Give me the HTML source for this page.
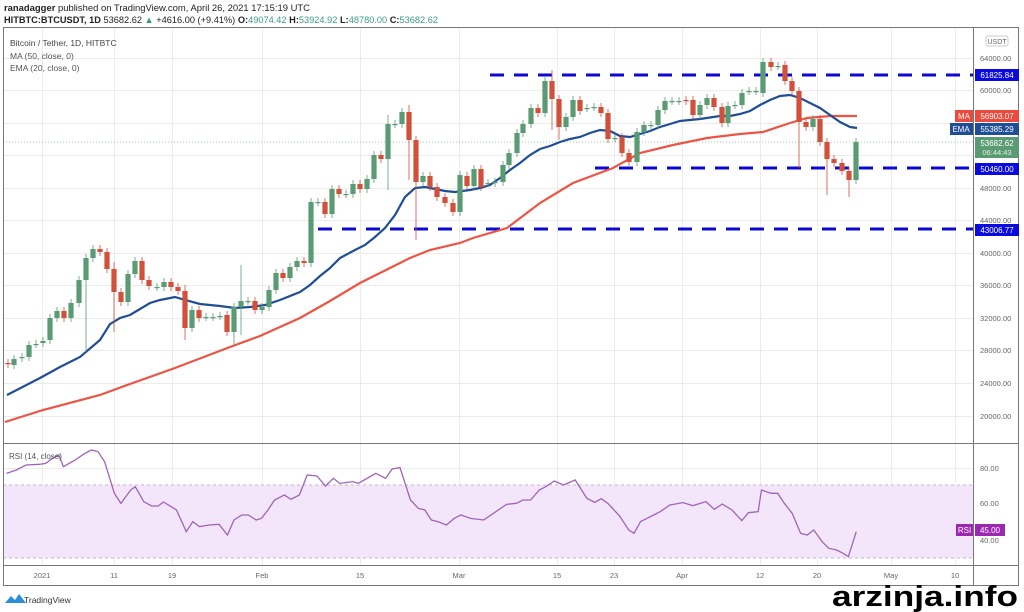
<!DOCTYPE html>
<html><head><meta charset="utf-8"><style>
html,body{margin:0;padding:0;background:#fff;width:1024px;height:612px;overflow:hidden}
svg text{font-family:"Liberation Sans",sans-serif}
</style></head><body>
<svg id="s" width="1024" height="612" viewBox="0 0 1024 612" xmlns="http://www.w3.org/2000/svg">
<rect width="1024" height="612" fill="#fff"/>
<text x="4" y="11" font-size="9.5" fill="#222" textLength="306" lengthAdjust="spacingAndGlyphs"><tspan font-weight="bold">ranadagger</tspan> published on TradingView.com, April 26, 2021 17:15:19 UTC</text>
<text x="4" y="23" font-size="9.3" fill="#222" textLength="434" lengthAdjust="spacingAndGlyphs"><tspan font-weight="bold">HITBTC:BTCUSDT, 1D</tspan> 53682.62 <tspan fill="#3a9a6a">▲</tspan> +4616.00 (+9.41%) <tspan font-weight="bold">O:</tspan><tspan fill="#3a9a8a">49074.42</tspan> <tspan font-weight="bold">H:</tspan><tspan fill="#3a9a8a">53924.92</tspan> <tspan font-weight="bold">L:</tspan><tspan fill="#3a9a8a">48780.00</tspan> <tspan font-weight="bold">C:</tspan><tspan fill="#3a9a8a">53682.62</tspan></text>
<g id="grid" stroke="#ececec" stroke-width="1"></g>
<rect x="3" y="485" width="970" height="73" fill="#f3e6fb"/>
<line x1="3" y1="485" x2="973" y2="485" stroke="#c9b3d6" stroke-dasharray="3,3"/>
<line x1="3" y1="558" x2="973" y2="558" stroke="#c9b3d6" stroke-dasharray="3,3"/>
<line x1="3" y1="142" x2="973" y2="142" stroke="#7fb79a" stroke-dasharray="1,2" stroke-width="0.8"/>
<g id="dash" stroke="#0a0ad0" stroke-width="3" stroke-dasharray="14,10">
<line x1="490" y1="75" x2="973" y2="75"/>
<line x1="595" y1="168" x2="973" y2="168"/>
<line x1="318" y1="229" x2="973" y2="229"/>
</g>
<polyline fill="none" stroke="#ec5444" stroke-width="2.2" points="5,422 43,410 100,395 130,384 175,368 230,347 260,336 300,318 330,301 360,283 390,268 410,258 430,250 460,243 473,238 507,228 540,203 573,183 613,168 640,153 673,145 707,138 740,134 763,132 790,123 807,118 830,116 857,116"/>
<polyline fill="none" stroke="#1f4e96" stroke-width="2.2" points="7,395 40,378 60,367 80,357 100,340 110,324 120,318 130,315 140,309 150,303 160,300 175,297 185,300 200,304 220,306 235,308 250,307 265,305 280,300 300,292 310,285 320,276 330,268 340,258 355,250 365,245 375,237 385,228 395,215 405,197 415,188 425,187 435,189 445,191 455,192 470,190 480,188 490,185 500,178 510,170 520,163 530,155 540,149 550,146 560,142 570,139 580,137 590,133 600,130 610,131 620,136 630,137 640,134 650,131 660,127 670,124 680,121 700,119 720,116 730,116 740,114 750,111 760,105 770,100 780,96 790,95 800,98 810,103 820,108 830,115 840,122 850,127 857,128"/>
<g id="candles"></g>
<g transform="translate(0,440) scale(0.6536,0.33333)">
<polyline fill="none" stroke="#a064b8" stroke-width="1.3" vector-effect="non-scaling-stroke" points="10,100 25,90 40,75 60,73 70,70 80,55 90,45 97,80 115,60 130,40 140,30 150,35 160,65 175,160 185,190 200,150 207,140 220,185 232,198 242,198 250,186 262,200 270,210 285,275 295,245 305,260 320,255 335,253 348,285 358,240 370,225 380,225 392,240 400,235 410,210 420,180 435,165 445,178 458,165 470,105 485,108 498,138 510,115 520,130 540,125 548,130 560,117 575,100 590,115 600,87 612,83 628,180 640,205 650,210 660,240 670,245 683,255 695,235 705,225 720,235 740,240 755,220 775,193 790,190 800,180 812,180 825,150 835,140 848,123 862,135 880,120 898,175 910,187 920,176 930,190 948,228 962,270 970,280 980,245 990,235 1000,225 1010,215 1025,195 1045,188 1060,197 1075,188 1080,185 1093,208 1105,192 1120,210 1135,242 1145,218 1160,215 1165,150 1180,160 1190,160 1200,190 1212,220 1225,280 1235,285 1245,270 1258,305 1268,325 1280,330 1290,340 1298,350 1310,275"/>
</g>
<text x="9" y="459" font-size="8" fill="#555">RSI (14, close)</text>
<text x="10" y="46" font-size="8.5" fill="#444">Bitcoin / Tether, 1D, HITBTC</text>
<text x="10" y="59" font-size="8.5" fill="#555">MA (50, close, 0)</text>
<text x="10" y="71" font-size="8.5" fill="#555">EMA (20, close, 0)</text>
<g fill="none" stroke="#777" stroke-width="1">
<rect x="3.5" y="27.5" width="1015" height="558"/>
<line x1="973.5" y1="27" x2="973.5" y2="586"/>
<line x1="3" y1="443.5" x2="1019" y2="443.5"/>
<line x1="3" y1="565.5" x2="1019" y2="565.5"/>
</g>
<g id="axis" font-size="7.5" fill="#666"></g>
<rect x="986" y="36" width="22" height="10" rx="2" fill="#fff" stroke="#ccc"/>
<text x="997" y="44" font-size="7" fill="#666" text-anchor="middle">USDT</text>
<rect x="975" y="69" width="44" height="12" fill="#0a0ae0"/><text x="997" y="78" font-size="8" fill="#fff" text-anchor="middle">61825.84</text>
<rect x="955" y="110" width="18" height="12" fill="#ec4a3c"/><text x="964" y="119" font-size="8" fill="#fff" text-anchor="middle">MA</text>
<rect x="975" y="110" width="44" height="12" fill="#ec4a3c"/><text x="997" y="119" font-size="8" fill="#fff" text-anchor="middle">56903.07</text>
<rect x="950" y="123" width="23" height="12" fill="#1f4e96"/><text x="961" y="132" font-size="8" fill="#fff" text-anchor="middle">EMA</text>
<rect x="975" y="123" width="44" height="12" fill="#1f4e96"/><text x="997" y="132" font-size="8" fill="#fff" text-anchor="middle">55385.29</text>
<rect x="975" y="137" width="44" height="21" fill="#5b9b74"/><text x="997" y="146" font-size="8" fill="#fff" text-anchor="middle">53682.62</text><text x="997" y="155" font-size="7.5" fill="#dfeee5" text-anchor="middle">06:44:43</text>
<rect x="975" y="163" width="44" height="12" fill="#0a0ae0"/><text x="997" y="172" font-size="8" fill="#fff" text-anchor="middle">50460.00</text>
<rect x="975" y="224" width="44" height="12" fill="#0a0ae0"/><text x="997" y="233" font-size="8" fill="#fff" text-anchor="middle">43006.77</text>
<rect x="956" y="524" width="17" height="12" fill="#9c27b0"/><text x="964.5" y="533" font-size="8" fill="#fff" text-anchor="middle">RSI</text>
<rect x="975" y="524" width="30" height="12" fill="#9c27b0"/><text x="990" y="533" font-size="8" fill="#fff" text-anchor="middle">45.00</text>
<path d="M5,603 L11,596 L15,600 L19,594 L26,603 Z" fill="#2a8fd8"/>
<text x="24" y="603" font-size="8.5" fill="#333">TradingView</text>
<text x="1018" y="606" font-size="29" font-weight="bold" fill="#000" text-anchor="end" font-family="Liberation Sans Narrow, Liberation Sans, sans-serif" textLength="186" lengthAdjust="spacingAndGlyphs">arzinja.info</text>
</svg>
<script>
var NS="http://www.w3.org/2000/svg";
function el(p,t,a,txt){var e=document.createElementNS(NS,t);for(var k in a)e.setAttribute(k,a[k]);if(txt!=null)e.textContent=txt;p.appendChild(e);return e;}
var g=document.getElementById('grid'),ax=document.getElementById('axis');
var ys=[58,90,123,155,188,220,253,285,318,350,383,416],pr=[64000,60000,56000,52000,48000,44000,40000,36000,32000,28000,24000,20000];
for(var i=0;i<ys.length;i++){el(g,'line',{x1:3,y1:ys[i]+.5,x2:973,y2:ys[i]+.5});
 if([56000,52000].indexOf(pr[i])<0) el(ax,'text',{x:980,y:ys[i]+3},pr[i].toFixed(2));}
[[468,'80.00'],[503,'60.00'],[540,'40.00']].forEach(function(r){el(g,'line',{x1:3,y1:r[0]+.5,x2:973,y2:r[0]+.5});el(ax,'text',{x:980,y:r[0]+3},r[1]);});
[[42,'2021'],[114,'11'],[172,'19'],[262,'Feb'],[360,'15'],[459,'Mar'],[557,'15'],[614,'23'],[682,'Apr'],[760,'12'],[817,'20'],[891,'May'],[955,'10']].forEach(function(d){
 el(g,'line',{x1:d[0]+.5,y1:28,x2:d[0]+.5,y2:565});el(ax,'text',{x:d[0],y:578,'text-anchor':'middle'},d[1]);});
var C=[[8,363,364],[14,365,359],[22,358,357],[29,357,345],[36,344,344],[43,343,341],[50,340,318],[57,318,311],[64,311,318],[71,318,303],[79,303,280],[86,280,258],[93,258,249],[100,249,252],[107,252,269],[114,269,292],[121,292,302],[128,302,274],[135,274,261],[142,261,280],[149,280,286],[157,287,287],[164,287,282],[171,282,287],[178,287,291],[185,291,328],[192,328,310],[199,310,318],[206,317,317],[213,317,317],[220,316,316],[227,315,332],[234,332,307],[241,307,301],[248,301,301],[255,301,310],[262,310,307],[269,307,290],[276,290,273],[283,273,278],[290,278,267],[297,267,261],[304,261,263],[311,263,202],[318,202,202],[325,202,214],[332,214,189],[339,189,194],[346,194,194],[353,194,184],[360,184,189],[367,189,179],[374,179,155],[381,155,159],[388,159,124],[395,124,124],[402,124,112],[409,112,140],[416,140,182],[423,182,176],[430,176,187],[437,187,197],[445,197,203],[453,203,212],[460,212,175],[467,176,186],[474,186,169],[481,169,187],[488,183,183],[495,183,182],[503,182,165],[509,165,153],[517,153,133],[523,133,124],[531,124,108],[538,108,113],[545,113,81],[552,81,99],[559,99,127],[566,127,117],[573,117,100],[580,100,111],[587,108,108],[594,107,107],[601,107,113],[608,113,139],[615,138,138],[622,137,153],[629,153,162],[637,162,132],[644,132,125],[651,125,125],[658,125,110],[665,110,101],[672,101,101],[679,101,101],[686,100,101],[693,100,115],[700,115,105],[707,105,98],[714,98,107],[722,107,123],[728,123,106],[735,105,105],[742,105,93],[749,91,91],[756,91,91],[763,93,62],[771,62,67],[778,66,66],[785,65,81],[792,81,91],[799,91,122],[806,122,127],[813,127,119],[820,119,142],[827,142,159],[834,159,163],[842,163,171],[849,171,180],[856,180,142]];
var L={241:[265,335],416:[150,240],799:[90,168],827:[140,195],849:[170,197],185:[285,340],114:[262,332],388:[115,190],409:[105,180],552:[70,130],559:[95,140],86:[265,352],234:[325,345]};
var cg=document.getElementById('candles');
C.forEach(function(c){var x=c[0],o=c[1],cl=c[2];var col=(cl<=o)?'#5b9b74':'#d0503a';
 var t=Math.min(o,cl),b=Math.max(o,cl);var hi=t-4,lo=b+4;if(L[x]){hi=Math.min(hi,L[x][0]);lo=Math.max(lo,L[x][1]);}
 el(cg,'line',{x1:x,y1:hi,x2:x,y2:lo,stroke:col,'stroke-width':1,opacity:.8});
 el(cg,'rect',{x:x-2.6,y:t,width:5.2,height:Math.max(1.2,b-t),fill:col});});
</script>
</body></html>
